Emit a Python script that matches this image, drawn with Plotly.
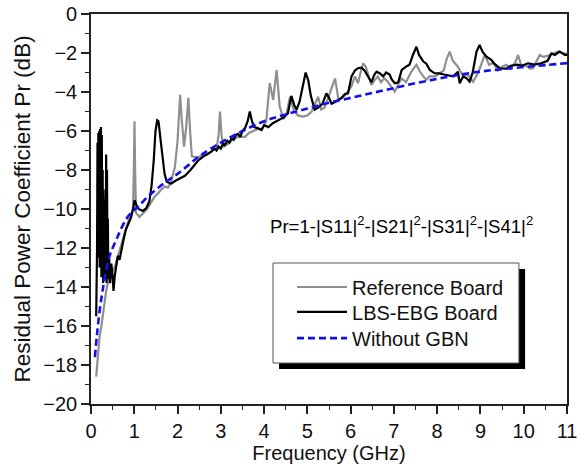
import plotly.graph_objects as go

# ---------------- data ----------------
ref_freq = [0.12, 0.16, 0.20, 0.24, 0.30, 0.35, 0.39, 0.45, 0.55, 0.62, 0.70, 0.78, 0.85, 0.92,
            0.97, 0.99, 1.005, 1.02, 1.04, 1.12, 1.20, 1.28, 1.38, 1.47, 1.55, 1.62, 1.71, 1.78,
            1.85, 1.94, 2.00, 2.06, 2.10, 2.15, 2.20, 2.25, 2.29, 2.33, 2.45, 2.55, 2.62, 2.70,
            2.80, 2.90, 2.95, 2.98, 3.02, 3.08, 3.20, 3.30, 3.40, 3.50, 3.56, 3.65, 3.75, 3.85,
            3.95, 4.05, 4.13, 4.21, 4.29, 4.36, 4.45, 4.52, 4.60, 4.68, 4.78, 4.90, 5.00, 5.10,
            5.25, 5.32, 5.40, 5.50, 5.56, 5.64, 5.72, 5.80, 5.90, 5.94, 6.02, 6.10, 6.17, 6.23,
            6.29, 6.35, 6.41, 6.48, 6.55, 6.63, 6.70, 6.78, 6.85, 6.95, 7.02, 7.10, 7.18, 7.28,
            7.40, 7.52, 7.60, 7.68, 7.75, 7.82, 7.95, 8.05, 8.15, 8.22, 8.29, 8.36, 8.48, 8.60,
            8.70, 8.83, 8.95, 9.10, 9.20, 9.30, 9.40, 9.50, 9.60, 9.70, 9.80, 9.87, 9.95, 10.05,
            10.15, 10.21, 10.30, 10.37, 10.45, 10.55, 10.65, 10.79, 10.90, 11.00]
ref_pr = [-18.6, -17.5, -16.5, -16.0, -14.9, -14.2, -13.8, -13.4, -12.96, -12.4, -11.76, -11.2, -10.7, -10.3,
          -10.05, -8.0, -5.5, -8.0, -10.2, -10.4, -10.2, -10.05, -9.7, -9.37, -9.2, -9.0, -8.85, -8.9,
          -8.6, -7.83, -6.5, -4.15, -5.5, -6.8, -5.8, -4.3, -6.0, -7.3, -7.35, -7.3, -7.25, -7.2,
          -7.0, -6.9, -6.2, -5.0, -6.3, -6.8, -6.6, -6.4, -6.3, -6.3, -6.3, -6.1, -6.0, -5.9,
          -5.9, -5.5, -3.55, -4.4, -2.87, -4.75, -5.4, -5.1, -4.24, -4.9, -5.2, -5.26, -5.2, -5.0,
          -4.24, -4.9, -4.8, -4.2, -3.73, -3.3, -4.4, -4.3, -4.1, -3.98, -3.7, -3.2, -3.55, -3.0,
          -2.53, -2.7, -3.1, -3.64, -3.4, -3.2, -3.5, -3.3, -3.45, -3.8, -3.98, -3.6, -3.3, -3.5,
          -2.96, -2.61, -2.95, -3.2, -3.38, -3.2, -3.2, -3.05, -2.9, -2.3, -1.93, -2.4, -2.7, -3.2,
          -3.1, -3.47, -3.0, -2.1, -2.6, -2.5, -2.9, -2.7, -2.6, -2.8, -2.5, -2.1, -2.7, -2.65,
          -2.8, -2.79, -2.4, -2.1, -2.2, -2.15, -2.05, -1.93, -2.0, -2.05]

ebg_freq = [0.12, 0.14, 0.15, 0.16, 0.17, 0.18, 0.19, 0.20, 0.21, 0.22, 0.23, 0.24, 0.25, 0.26,
            0.27, 0.28, 0.29, 0.30, 0.31, 0.32, 0.33, 0.34, 0.35, 0.36, 0.37, 0.38, 0.39, 0.40,
            0.42, 0.44, 0.47, 0.50, 0.52, 0.55, 0.58, 0.62, 0.66, 0.70, 0.75, 0.80, 0.86, 0.93,
            0.98, 1.01, 1.05, 1.10, 1.20, 1.28, 1.35, 1.40, 1.45, 1.49, 1.53, 1.56, 1.60, 1.65,
            1.70, 1.75, 1.85, 1.95, 2.05, 2.17, 2.30, 2.40, 2.48, 2.60, 2.70, 2.79, 2.85, 2.90,
            2.95, 3.00, 3.05, 3.10, 3.15, 3.20, 3.25, 3.30, 3.35, 3.40, 3.45, 3.50, 3.56, 3.62,
            3.67, 3.72, 3.77, 3.85, 3.94, 4.00, 4.10, 4.20, 4.33, 4.45, 4.55, 4.63, 4.70, 4.75,
            4.82, 4.90, 4.96, 5.02, 5.08, 5.17, 5.25, 5.35, 5.44, 5.50, 5.56, 5.65, 5.72, 5.79,
            5.87, 5.94, 6.02, 6.10, 6.17, 6.25, 6.32, 6.40, 6.48, 6.55, 6.60, 6.68, 6.75, 6.82,
            6.90, 6.95, 7.02, 7.10, 7.18, 7.28, 7.36, 7.44, 7.52, 7.58, 7.68, 7.75, 7.83, 7.94,
            8.05, 8.15, 8.25, 8.37, 8.48, 8.52, 8.60, 8.68, 8.75, 8.82, 8.91, 8.98, 9.05, 9.14,
            9.25, 9.32, 9.45, 9.60, 9.70, 9.85, 9.95, 10.10, 10.25, 10.40, 10.55, 10.64, 10.72, 10.83,
            10.95, 11.00]
ebg_pr = [-15.5, -12.0, -6.6, -10.0, -6.1, -12.5, -6.0, -13.0, -5.9, -12.0, -5.8, -13.5, -6.2, -12.8,
          -8.0, -13.8, -9.0, -13.0, -10.0, -13.5, -9.5, -12.5, -7.2, -13.8, -8.0, -13.0, -10.5, -13.6,
          -12.5, -13.8, -12.8, -13.5, -14.2, -13.4, -13.0, -12.4, -12.6, -12.1, -11.6, -11.1, -10.8, -10.4,
          -9.9, -9.55, -9.8, -10.0, -10.1, -9.95, -9.6, -8.8, -7.5, -6.0, -5.45, -5.5, -6.3, -7.3,
          -8.2, -8.6, -8.7, -8.55, -8.45, -8.3, -8.0, -7.7, -7.5, -7.3, -7.15, -7.05, -6.9, -7.0,
          -6.8, -6.9, -6.65, -6.7, -6.5, -6.6, -6.35, -6.45, -6.2, -6.15, -6.3, -6.0, -5.85, -5.5,
          -5.0, -5.5, -5.8, -5.85, -5.95, -5.7, -5.8, -5.6, -5.45, -5.3, -5.1, -4.2, -4.7, -4.9,
          -4.5, -3.6, -3.0, -3.4, -4.2, -4.9, -4.8, -4.6, -4.07, -4.3, -4.6, -4.5, -4.4, -4.3,
          -4.1, -4.07, -3.2, -2.9, -2.78, -2.75, -2.9, -3.2, -3.5, -3.1, -2.96, -3.05, -3.2, -3.0,
          -3.1, -3.35, -3.55, -3.5, -2.87, -2.7, -2.6, -2.1, -1.68, -2.1, -2.44, -2.55, -2.87, -3.04,
          -3.05, -3.1, -3.15, -3.2, -2.96, -3.55, -3.2, -3.3, -3.47, -3.0, -1.93, -1.59, -1.95, -2.19,
          -2.35, -2.55, -2.79, -2.8, -2.65, -2.6, -2.65, -2.53, -2.6, -2.53, -2.4, -2.02, -2.1, -1.93,
          -2.1, -2.1]

nogbn_freq = [0.09, 0.14, 0.20, 0.26, 0.32, 0.43, 0.52, 0.62, 0.72, 0.85, 1.00, 1.10, 1.30, 1.59,
              1.80, 2.00, 2.25, 2.50, 3.00, 3.50, 4.00, 4.50, 5.00, 5.50, 6.00, 6.50, 7.00, 7.50,
              8.00, 8.50, 9.00, 9.50, 10.00, 10.50, 11.00]
nogbn_pr = [-17.6, -16.4, -15.2, -14.3, -13.5, -12.4, -11.9, -11.4, -10.9, -10.4, -10.05, -9.85, -9.4, -8.85,
            -8.5, -8.2, -7.75, -7.3, -6.6, -6.0, -5.5, -5.15, -4.85, -4.55, -4.3, -4.05, -3.8, -3.55,
            -3.33, -3.12, -2.95, -2.83, -2.72, -2.62, -2.52]

x_ticks = list(range(0, 12))
y_ticks = list(range(-20, 1, 2))
series_names = ["Reference Board", "LBS-EBG Board", "Without GBN"]
formula_text = "Pr=1-|S11|<sup>2</sup>-|S21|<sup>2</sup>-|S31|<sup>2</sup>-|S41|<sup>2</sup>"

FONT = "Liberation Sans, Arial, sans-serif"

fig = go.Figure()
fig.add_trace(go.Scatter(x=ref_freq, y=ref_pr, mode="lines", name=series_names[0], legend="legend",
                         line=dict(color="#8f8f8f", width=2.2)))
fig.add_trace(go.Scatter(x=ebg_freq, y=ebg_pr, mode="lines", name=series_names[1], legend="legend2",
                         line=dict(color="#000000", width=2.2)))
fig.add_trace(go.Scatter(x=nogbn_freq, y=nogbn_pr, mode="lines", name=series_names[2], legend="legend3",
                         line=dict(color="#1010ee", width=2.6, dash="7px,4px", shape="spline")))

# legend frame with drop shadow (paper coordinates)
fig.add_shape(type="rect", xref="paper", yref="paper", x0=0.395, x1=0.912, y0=0.0897, y1=0.346,
              fillcolor="#000000", line=dict(width=0), layer="above")
fig.add_shape(type="rect", xref="paper", yref="paper", x0=0.3824, x1=0.899, y0=0.105, y1=0.3615,
              fillcolor="#ffffff", line=dict(color="#555555", width=1), layer="above")

fig.add_annotation(text=formula_text, xref="paper", yref="paper", x=0.372, y=0.459, xanchor="left",
                   showarrow=False, font=dict(family=FONT, size=18.6, color="#000"))

axis_common = dict(showgrid=False, zeroline=False, showline=True, linecolor="#222222", linewidth=1.6,
                   mirror=True, ticks="outside", ticklen=8, tickwidth=1.6, tickcolor="#222222",
                   automargin=True, tickfont=dict(family=FONT, size=20, color="#111"))

fig.update_xaxes(range=[0, 11], tickvals=x_ticks,
                 minor=dict(dtick=0.5, ticks="outside", ticklen=4, tickwidth=1.4, tickcolor="#222222"),
                 title=dict(text="Frequency (GHz)", font=dict(family=FONT, size=20, color="#111"), standoff=4),
                 **axis_common)
fig.update_yaxes(range=[-20, 0], tickvals=y_ticks,
                 minor=dict(dtick=1, ticks="outside", ticklen=4, tickwidth=1.4, tickcolor="#222222"),
                 title=dict(text="Residual Power Coefficient Pr (dB)", font=dict(family=FONT, size=22.5, color="#111"), standoff=6),
                 **axis_common)

leg_common = dict(xanchor="left", yanchor="middle", bgcolor="rgba(0,0,0,0)", borderwidth=0,
                  font=dict(family=FONT, size=20, color="#111"), itemwidth=50)
fig.update_layout(
    width=586, height=468,
    margin=dict(l=91, r=19, t=14, b=64, autoexpand=False),
    plot_bgcolor="white", paper_bgcolor="white",
    showlegend=True,
    legend=dict(x=0.4223, y=0.300, **leg_common),
    legend2=dict(x=0.4223, y=0.236, **leg_common),
    legend3=dict(x=0.4223, y=0.169, **leg_common),
)

fig.write_html("out.html")
